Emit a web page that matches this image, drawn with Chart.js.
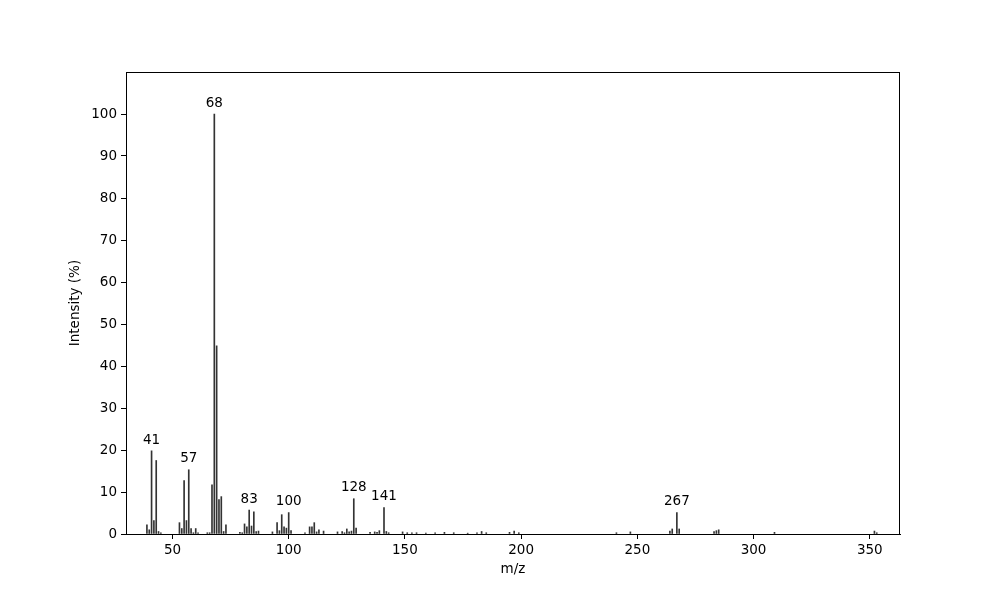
<!DOCTYPE html>
<html>
<head>
<meta charset="utf-8">
<script src="https://cdn.jsdelivr.net/npm/chart.js@4/dist/chart.umd.min.js"></script>
<style>
  html, body { margin: 0; padding: 0; background: #fff; }
  #wrap { width: 1000px; height: 600px; }
</style>
</head>
<body>
<div id="wrap"><canvas id="spectre"></canvas></div>
<script>
// Pics du spectre (m/z et intensité relative en %)
const mz = [39, 40, 41, 42, 43, 44, 45,
    53, 54, 55, 56, 57, 58, 59, 60, 61,
    65, 66, 67, 68, 69, 70, 71, 72, 73,
    79, 80, 81, 82, 83, 84, 85, 86, 87,
    93, 95, 96, 97, 98, 99, 100, 101,
    107, 109, 110, 111, 112, 113, 115,
    121, 123, 124, 125, 126, 127, 128, 129,
    135, 137, 138, 139, 141, 142, 143,
    149, 151, 153, 155, 159, 163, 167, 171, 177, 181, 183, 185, 195, 197, 199,
    241, 247, 264, 265, 267, 268, 283, 284, 285, 309, 352, 353];
const intensite = [2.2, 1.0, 19.8, 3.2, 17.5, 0.6, 0.3,
    2.7, 1.3, 12.7, 3.2, 15.3, 1.3, 0.3, 1.3, 0.3,
    0.3, 0.3, 11.7, 100, 44.8, 8.2, 8.9, 0.6, 2.2,
    0.4, 0.3, 2.4, 1.7, 5.7, 1.9, 5.3, 0.6, 0.7,
    0.5, 2.7, 0.8, 4.6, 1.7, 1.4, 5.1, 0.8,
    0.3, 1.7, 1.7, 2.7, 0.5, 1.0, 0.7,
    0.5, 0.6, 0.3, 1.2, 0.5, 0.7, 8.4, 1.4,
    0.4, 0.5, 0.4, 0.8, 6.3, 0.6, 0.3,
    0.5, 0.3, 0.3, 0.3, 0.2, 0.3, 0.4, 0.3, 0.2, 0.3, 0.6, 0.3, 0.4, 0.7, 0.3,
    0.3, 0.5, 0.7, 1.2, 5.1, 1.2, 0.6, 0.8, 1.0, 0.4, 0.7, 0.3];

// Pics annotés
const picsAnnotes = [41, 57, 68, 83, 100, 128, 141, 267];

// Graduations des axes
const xTicks = [50, 100, 150, 200, 250, 300, 350];
const yTicks = [0, 10, 20, 30, 40, 50, 60, 70, 80, 90, 100];

const police = { family: 'DejaVu Sans', size: 13.5 };

// Étiquettes au-dessus des pics + cadre complet
const etiquettes = {
    id: 'etiquettes',
    afterDatasetsDraw(chart) {
        const ctx = chart.ctx;
        const sx = chart.scales.x, sy = chart.scales.y;
        ctx.save();
        ctx.fillStyle = '#000';
        ctx.font = '13.5px "DejaVu Sans"';
        ctx.textAlign = 'center';
        ctx.textBaseline = 'bottom';
        picsAnnotes.forEach(m => {
            const i = mz.indexOf(m);
            ctx.fillText(String(m), sx.getPixelForValue(m), sy.getPixelForValue(intensite[i]) - 4);
        });
        const a = chart.chartArea;
        ctx.strokeStyle = '#000';
        ctx.lineWidth = 1;
        ctx.strokeRect(a.left + 0.5, a.top + 0.5, a.right - a.left - 1, a.bottom - a.top);
        ctx.restore();
    }
};

const ctx = document.getElementById('spectre').getContext('2d');
new Chart(ctx, {
    type: 'bar',
    data: {
        datasets: [{
            data: mz.map((m, i) => ({ x: m, y: intensite[i] })),
            backgroundColor: '#333',
            barThickness: 1,
            borderWidth: 0
        }]
    },
    options: {
        responsive: true,
        maintainAspectRatio: false,
        animation: false,
        layout: { padding: { left: 0, right: 100, top: 72, bottom: 0 } },
        plugins: { legend: { display: false }, tooltip: { enabled: false } },
        scales: {
            x: {
                type: 'linear',
                min: 30,
                max: 363,
                offset: false,
                afterBuildTicks: axis => { axis.ticks = xTicks.map(v => ({ value: v })); },
                afterFit: axis => { axis.height = 66; },
                grid: { offset: false, drawOnChartArea: false, tickLength: 5, color: '#000' },
                border: { color: '#000' },
                ticks: { color: '#000', font: police, padding: 3, maxRotation: 0 },
                title: { display: true, text: 'm/z', color: '#000', font: police, padding: { top: 0, bottom: 22 } }
            },
            y: {
                min: 0,
                max: 110,
                afterBuildTicks: axis => { axis.ticks = yTicks.map(v => ({ value: v })); },
                afterFit: axis => { axis.width = 126; },
                grid: { drawOnChartArea: false, tickLength: 5, color: '#000' },
                border: { color: '#000' },
                ticks: { color: '#000', font: police, padding: 4 },
                title: { display: true, text: 'Intensity (%)', color: '#000', font: police, padding: { top: 67, bottom: 0 } }
            }
        }
    },
    plugins: [etiquettes]
});
</script>
</body>
</html>
